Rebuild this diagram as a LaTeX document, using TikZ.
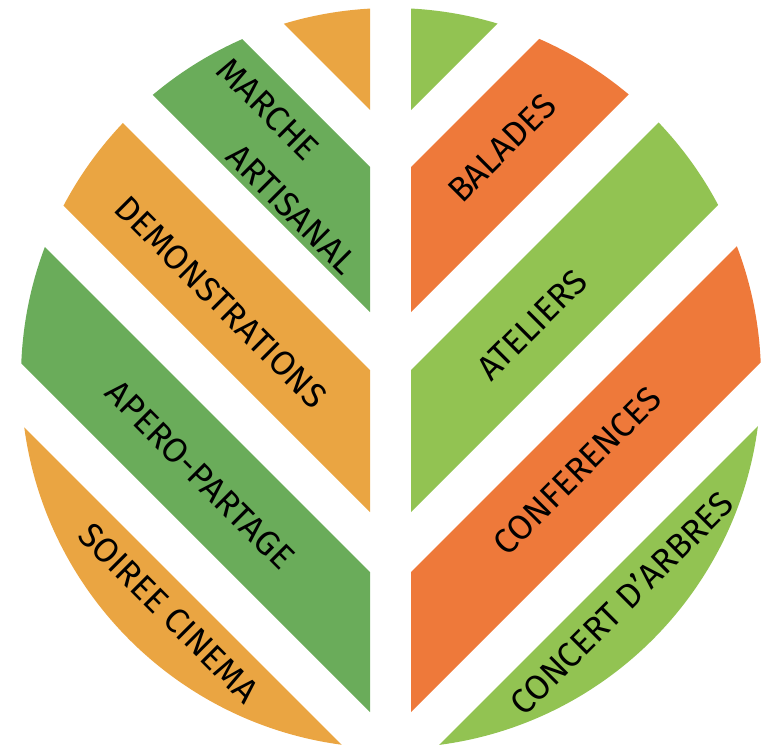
\documentclass[tikz,border=0pt]{standalone}
\usepackage{fontspec}
\setmainfont{Fira Sans}
\definecolor{orangeL}{RGB}{234,165,66}
\definecolor{greenL}{RGB}{106,172,90}
\definecolor{greenR}{RGB}{146,195,82}
\definecolor{orangeR}{RGB}{238,121,58}
\tikzset{
  label/.style={inner sep=0pt, text=black, font=\fontsize{34.5}{40}\selectfont},
  labelL/.style={label, rotate=-45},
  labelR/.style={label, rotate=45}
}
\begin{document}
\begin{tikzpicture}[x=1pt,y=-1pt]
            \useasboundingbox (0,0) rectangle (773,750);

            % Left half of the leaf
            \begin{scope}
            \clip (391,378) circle (370);
            \clip (0,0) rectangle (370,750);
            \fill [orangeL] (370,-33) -- (370,110) -- (0,-260) -- (0,-403) -- cycle;%
            \fill [greenL] (370,167) -- (370,312) -- (0,-58) -- (0,-203) -- cycle;%
            \fill [orangeL] (370,370) -- (370,512) -- (0,142) -- (0,0) -- cycle;%
            \fill [greenL] (370,572) -- (370,712) -- (0,342) -- (0,202) -- cycle;%
            \fill [orangeL] (370,773) -- (370,915) -- (0,545) -- (0,403) -- cycle;%
            \end{scope}

            % Right half of the leaf
            \begin{scope}
            \clip (391,378) circle (370);
            \clip (411,0) rectangle (773,750);
            \fill [greenR] (411,-33) -- (411,110) -- (773,-252) -- (773,-395) -- cycle;%
            \fill [orangeR] (411,167) -- (411,312) -- (773,-50) -- (773,-195) -- cycle;%
            \fill [greenR] (411,370) -- (411,512) -- (773,150) -- (773,8) -- cycle;%
            \fill [orangeR] (411,572) -- (411,712) -- (773,350) -- (773,210) -- cycle;%
            \fill [greenR] (411,773) -- (411,915) -- (773,553) -- (773,411) -- cycle;%
            \end{scope}

            % Labels on the left
            \node [labelL] (marche) at (268,109) {MARCHE};%
            \node [labelL] (artisanal) at (292,209) {ARTISANAL};%
            \node [labelL] (demo) at (221,302) {DEMONSTRATIONS};%
            \node [labelL] (apero) at (200,475) {APERO-PARTAGE};%
            \node [labelL] (soiree) at (169,613) {SOIREE CINEMA};%

            % Labels on the right
            \node [labelR] (balades) at (502,148) {BALADES};%
            \node [labelR] (ateliers) at (532,325) {ATELIERS};%
            \node [labelR] (conf) at (577,471) {CONFERENCES};%
            \node [labelR] (concert) at (621,603) {CONCERT D’ARBRES};%
\end{tikzpicture}
\end{document}
